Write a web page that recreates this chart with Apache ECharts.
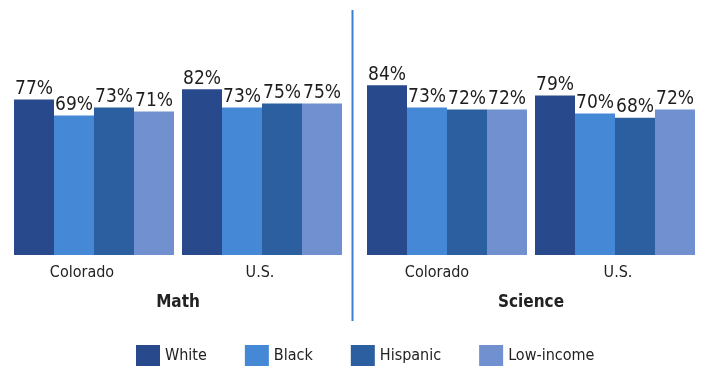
<!DOCTYPE html>
<html>
<head>
<meta charset="utf-8">
<script src="https://cdn.jsdelivr.net/npm/echarts@6/dist/echarts.min.js"></script>
<style>
  html, body { margin: 0; padding: 0; background: #fff; }
  #chart { width: 702px; height: 368px; }
</style>
</head>
<body>
<div id="chart"></div>
<script>
// Proficiency rates by student group, two subjects, Colorado vs. U.S.
const regions = ['Colorado', 'U.S.'];
const subjects = ['Math', 'Science'];
const groups = ['White', 'Black', 'Hispanic', 'Low-income'];

// each array is [Colorado, U.S.]
const mathWhite = [77, 82];
const mathBlack = [69, 73];
const mathHispanic = [73, 75];
const mathLowIncome = [71, 75];

const sciWhite = [84, 79];
const sciBlack = [73, 70];
const sciHispanic = [72, 68];
const sciLowIncome = [72, 72];

const groupColors = ['#284a8c', '#4588d6', '#2b5f9f', '#7090cf'];
const FONT = "'DejaVu Sans Condensed', 'Liberation Sans', sans-serif";

const subjectData = [
  [mathWhite, mathBlack, mathHispanic, mathLowIncome],
  [sciWhite, sciBlack, sciHispanic, sciLowIncome]
];

// per-panel nudges for the region labels (text padding, px)
const labelPad = [
  { Colorado: [0, 24, 0, 0], 'U.S.': [0, 4, 0, 0] },
  { Colorado: [0, 20, 0, 0], 'U.S.': [0, 0, 0, 6] }
];

const grids = [
  { left: 10, width: 336, top: 53, height: 202 },
  { left: 363, width: 336, top: 53, height: 202 }
];

const xAxes = subjects.map((s, i) => ({
  type: 'category',
  gridIndex: i,
  data: regions,
  axisLine: { show: false },
  axisTick: { show: false },
  axisLabel: {
    margin: 10,
    formatter: v => '{' + (v === 'U.S.' ? 'u' : 'c') + '|' + v + '}',
    rich: {
      c: { fontFamily: FONT, fontSize: 16, color: '#222', padding: labelPad[i].Colorado },
      u: { fontFamily: FONT, fontSize: 16, color: '#222', padding: labelPad[i]['U.S.'] }
    }
  },
  name: s,
  nameLocation: 'middle',
  nameGap: 39,
  nameTextStyle: { fontFamily: FONT, fontSize: 17, fontWeight: 'bold', color: '#222' }
}));

const yAxes = subjects.map((s, i) => ({
  type: 'value',
  gridIndex: i,
  min: 0,
  max: 100,
  show: false,
  splitLine: { show: false }
}));

const series = [];
subjects.forEach((s, si) => {
  groups.forEach((g, gi) => {
    series.push({
      name: g,
      type: 'bar',
      xAxisIndex: si,
      yAxisIndex: si,
      data: subjectData[si][gi],
      barWidth: 40,
      barGap: '0%',
      itemStyle: { color: groupColors[gi] },
      label: {
        show: true,
        position: 'top',
        distance: 1,
        formatter: '{c}%',
        fontFamily: FONT,
        fontSize: 19,
        color: '#1e1e1e'
      },
      emphasis: { disabled: true }
    });
  });
});

const chart = echarts.init(document.getElementById('chart'), null, { renderer: 'canvas' });
chart.setOption({
  animation: false,
  backgroundColor: '#fff',
  grid: grids,
  xAxis: xAxes,
  yAxis: yAxes,
  series: series,
  legend: {
    data: groups,
    left: 136,
    top: 345,
    padding: 0,
    itemWidth: 24,
    itemHeight: 21,
    itemGap: 38,
    icon: 'rect',
    textStyle: { fontFamily: FONT, fontSize: 16, color: '#222' }
  },
  graphic: [{
    type: 'line',
    shape: { x1: 352.5, y1: 10, x2: 352.5, y2: 321 },
    style: { stroke: '#3a7fcf', lineWidth: 2 }
  }]
});
</script>
</body>
</html>
